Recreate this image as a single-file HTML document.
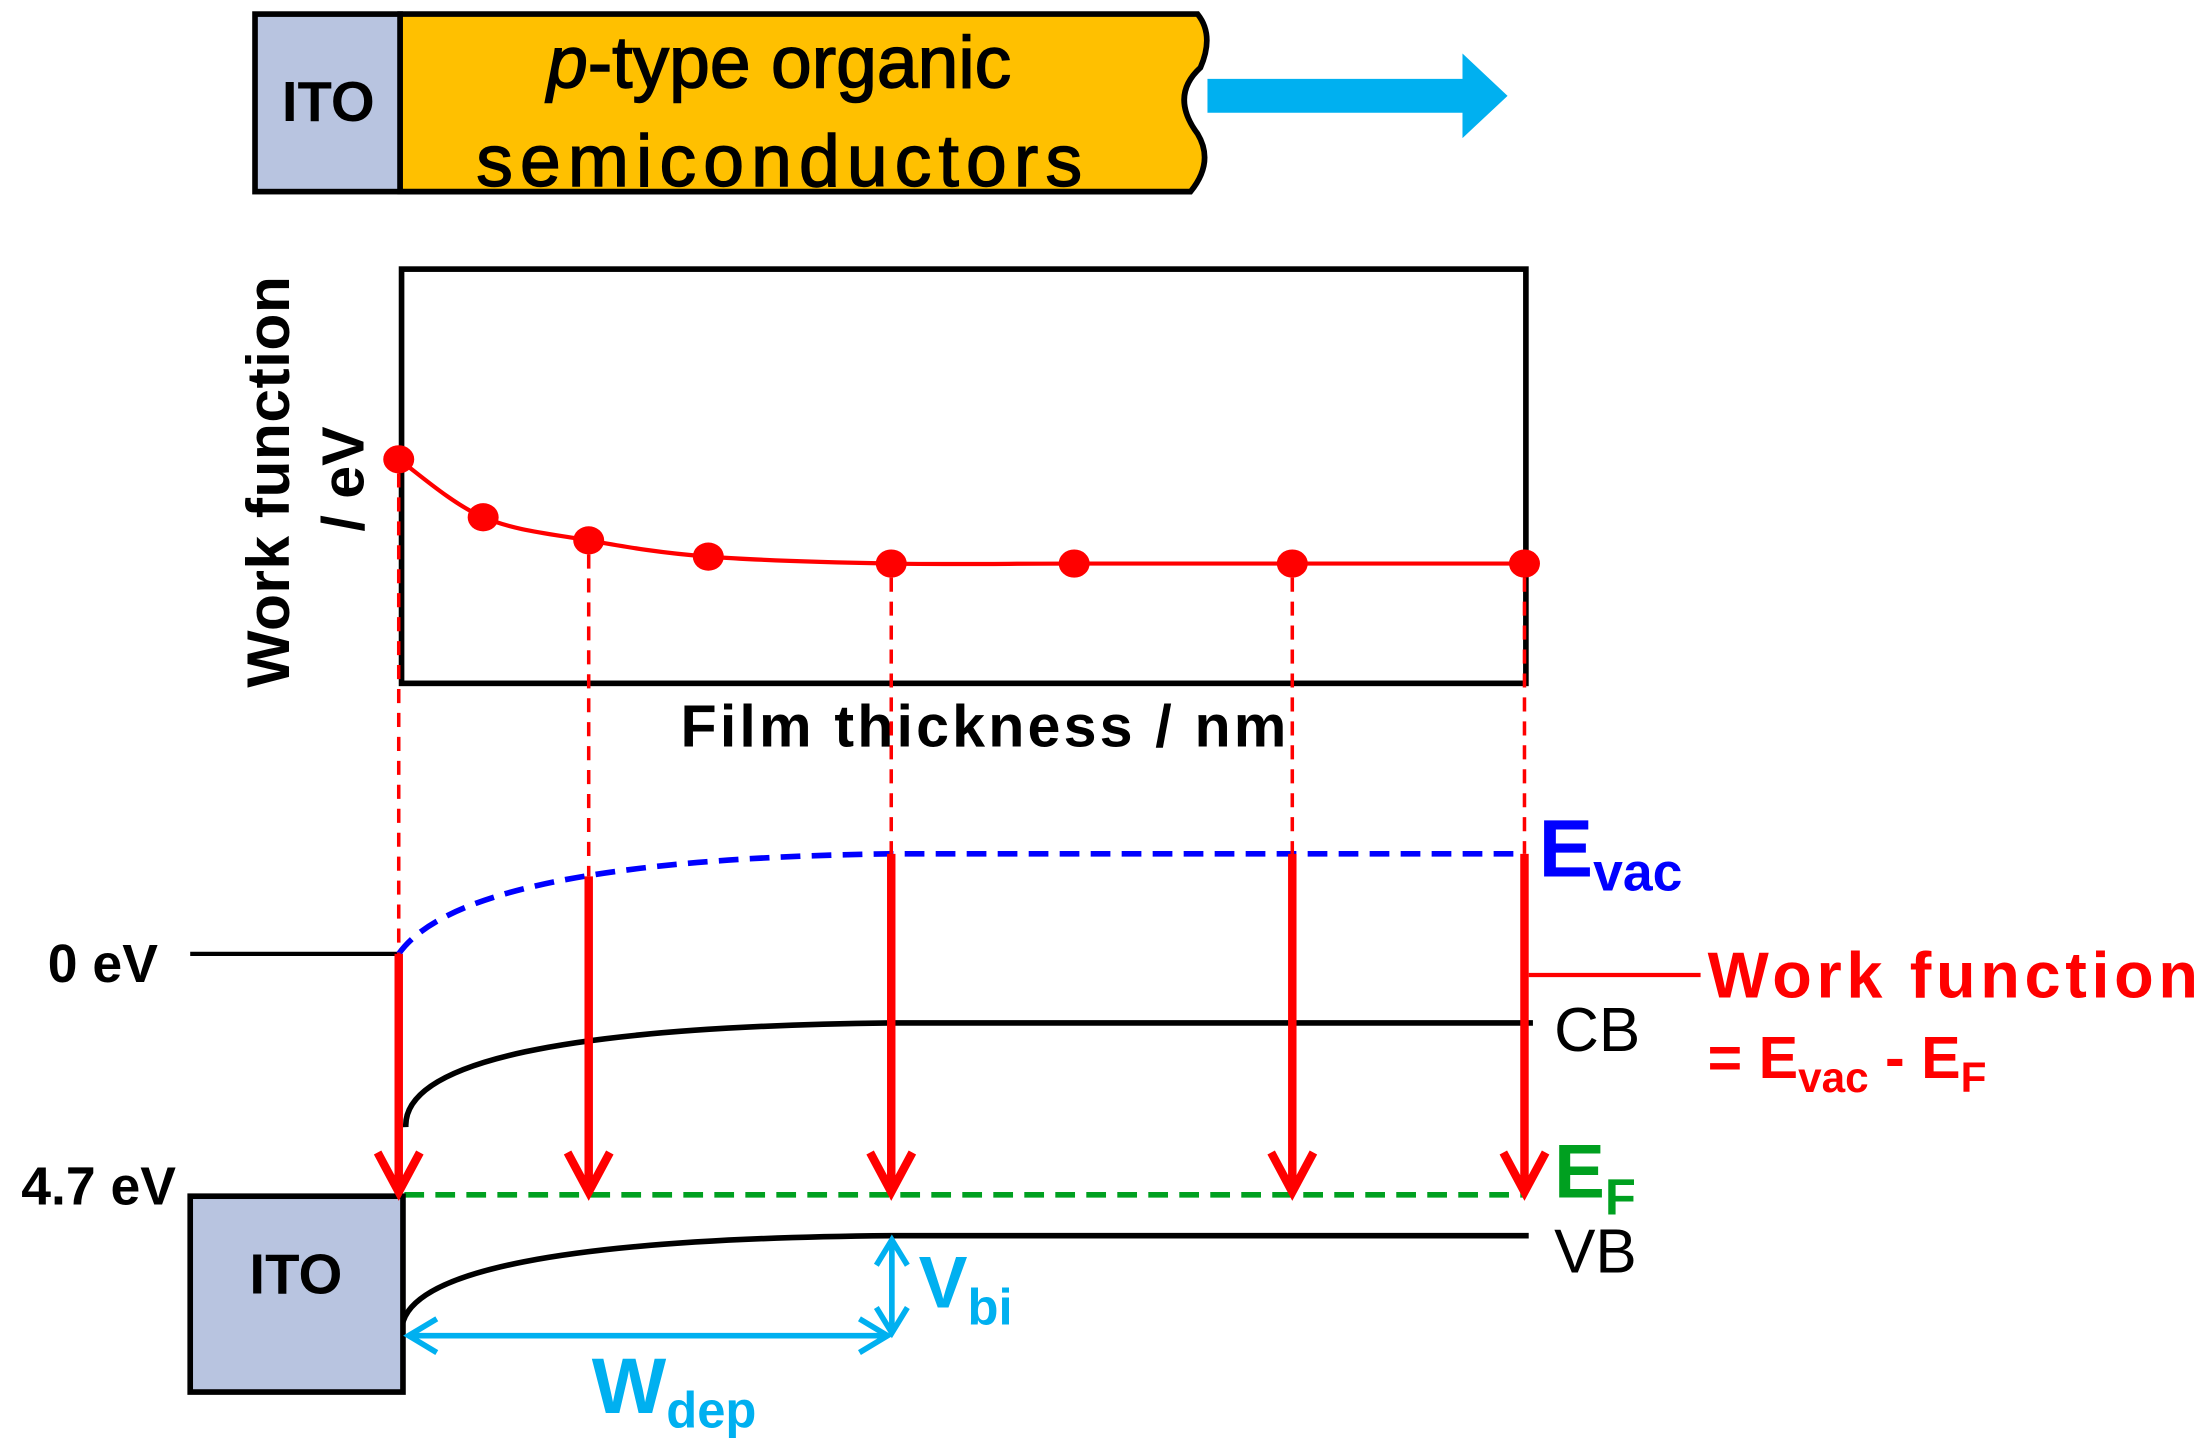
<!DOCTYPE html>
<html><head><meta charset="utf-8"><style>
html,body{margin:0;padding:0;background:#fff;}
svg{display:block;font-family:"Liberation Sans",Arial,sans-serif;}
</style></head><body>
<svg id="chart" width="2205" height="1447" viewBox="0 0 1565 1027" xmlns="http://www.w3.org/2000/svg">
 <g>
  <rect x="181" y="10" width="103" height="126" fill="#b8c4e0" stroke="#000" stroke-width="4"/>
  <path d="M284,10 L850,10 Q862,25 852,48 Q830,68 850,95 Q862,115 845,136 L284,136 Z" fill="#ffc000" stroke="#000" stroke-width="4"/>
  <text x="233" y="86" font-size="40" font-weight="bold" text-anchor="middle">ITO</text>
  <text x="553" y="62" font-size="52" text-anchor="middle" stroke="#000" stroke-width="1"><tspan font-style="italic">p</tspan>-type organic</text>
  <text x="553" y="132" font-size="52" text-anchor="middle" stroke="#000" stroke-width="1" textLength="430">semiconductors</text>
  <path d="M857,56 L1038,56 L1038,38 L1070,68 L1038,98 L1038,80 L857,80 Z" fill="#00b0f0"/>
 </g>
 <rect x="285" y="191" width="798" height="294" fill="none" stroke="#000" stroke-width="4"/>
 <text transform="translate(205,342) rotate(-90)" font-size="43" font-weight="bold" text-anchor="middle" textLength="292">Work function</text>
 <text transform="translate(258,340) rotate(-90)" font-size="42" font-weight="bold" text-anchor="middle">/ eV</text>
 <text x="698" y="530" font-size="42" font-weight="bold" text-anchor="middle" textLength="430">Film thickness / nm</text>
 <g id="series"></g>
 <g>
  <line x1="135" y1="677" x2="283" y2="677" stroke="#000" stroke-width="3"/>
  <text x="73" y="697" font-size="38" font-weight="bold" text-anchor="middle">0 eV</text>
  <text x="70" y="855" font-size="38" font-weight="bold" text-anchor="middle">4.7 eV</text>
  <path d="M283,677 Q330,610 633,606 L1082,606" fill="none" stroke="#0000ff" stroke-width="4" stroke-dasharray="14,8"/>
  <path d="M288,800 Q285,730 633,726 L1088,726" fill="none" stroke="#000" stroke-width="4"/>
  <path d="M285,945 Q285,880 633,877 L1085,877" fill="none" stroke="#000" stroke-width="4"/>
  <line x1="287" y1="848" x2="1082" y2="848" stroke="#00a020" stroke-width="4" stroke-dasharray="14,8"/>
  <rect x="135" y="849" width="151" height="139" fill="#b8c4e0" stroke="#000" stroke-width="4"/>
  <text x="210" y="918" font-size="40" font-weight="bold" text-anchor="middle">ITO</text>
  <text x="1092" y="622" font-size="58" font-weight="bold" fill="#0000ff">E<tspan font-size="38" dy="10">vac</tspan></text>
  <text x="1103" y="746" font-size="44">CB</text>
  <text x="1103" y="903" font-size="44">VB</text>
  <text x="1103" y="850" font-size="54" font-weight="bold" fill="#00a020">E<tspan font-size="36" dy="12">F</tspan></text>
  <line x1="1085" y1="692" x2="1207" y2="692" stroke="#ff0000" stroke-width="3"/>
  <text x="1212" y="708" font-size="46" font-weight="bold" fill="#ff0000" textLength="348">Work function</text>
  <text x="1212" y="765" font-size="42" font-weight="bold" fill="#ff0000">= E<tspan font-size="30" dy="10">vac</tspan><tspan dy="-10"> - E</tspan><tspan font-size="30" dy="10">F</tspan></text>
  <g stroke="#00b0f0" stroke-width="4" fill="none">
   <line x1="290" y1="948" x2="630" y2="948"/>
   <path d="M310,936 L290,948 L310,960 M610,936 L630,948 L610,960"/>
   <line x1="633" y1="880" x2="633" y2="945"/>
   <path d="M622,898 L633,880 L644,898 M622,928 L633,946 L644,928"/>
  </g>
  <text x="420" y="1003" font-size="56" font-weight="bold" fill="#00b0f0">W<tspan font-size="36" dy="10">dep</tspan></text>
  <text x="652" y="928" font-size="52" font-weight="bold" fill="#00b0f0">V<tspan font-size="36" dy="12">bi</tspan></text>
 </g>
 <g id="arrows"></g>
</svg>
<script>
const thickness = [0, 1.2, 2.7, 4.4, 7, 9.6, 12.7, 16];
const workFunction = [4.7, 4.45, 4.35, 4.28, 4.25, 4.25, 4.25, 4.25];
const projectedIdx = [0, 2, 4, 6, 7];
const evacTop = [677, 622, 606, 606, 606];

const NS = 'http://www.w3.org/2000/svg';
function xScale(t){ return 283 + t * (799/16); }
function yScale(w){ return 326 + (4.7 - w) * 164.4; }
const g = document.getElementById('series');
const pts = thickness.map((t,i)=>[xScale(t), yScale(workFunction[i])]);
let d = 'M' + pts[0][0] + ',' + pts[0][1];
for (let i=0;i<pts.length-1;i++){
  const p0 = pts[Math.max(0,i-1)], p1 = pts[i], p2 = pts[i+1], p3 = pts[Math.min(pts.length-1,i+2)];
  const c1 = [p1[0]+(p2[0]-p0[0])/6, p1[1]+(p2[1]-p0[1])/6];
  const c2 = [p2[0]-(p3[0]-p1[0])/6, p2[1]-(p3[1]-p1[1])/6];
  d += ' C'+c1[0]+','+c1[1]+' '+c2[0]+','+c2[1]+' '+p2[0]+','+p2[1];
}
const path = document.createElementNS(NS,'path');
path.setAttribute('d', d);
path.setAttribute('fill','none');
path.setAttribute('stroke','#ff0000');
path.setAttribute('stroke-width','3');


g.appendChild(path);
pts.forEach((p,i)=>{
  const c = document.createElementNS(NS,'ellipse');
  c.setAttribute('cx', p[0]); c.setAttribute('cy', p[1]);
  c.setAttribute('rx', 11); c.setAttribute('ry', 10);
  c.setAttribute('fill','#ff0000');
  
  
  g.appendChild(c);
});
const ag = document.getElementById('arrows');
projectedIdx.forEach((idx,k)=>{
  const p = pts[idx];
  const x = p[0];
  const dl = document.createElementNS(NS,'line');
  dl.setAttribute('x1', x); dl.setAttribute('y1', p[1]+10);
  dl.setAttribute('x2', x); dl.setAttribute('y2', evacTop[k]);
  dl.setAttribute('stroke','#ff0000'); dl.setAttribute('stroke-width','2.5');
  dl.setAttribute('stroke-dasharray','10,7');
  
  
  ag.appendChild(dl);
  const a = document.createElementNS(NS,'path');
  a.setAttribute('d', 'M'+x+','+evacTop[k]+' L'+x+',845 M'+(x-15)+',818 L'+x+',846 L'+(x+15)+',818');
  a.setAttribute('fill','none'); a.setAttribute('stroke','#ff0000'); a.setAttribute('stroke-width','6');
  
  
  ag.appendChild(a);
});
</script>
</body></html>
